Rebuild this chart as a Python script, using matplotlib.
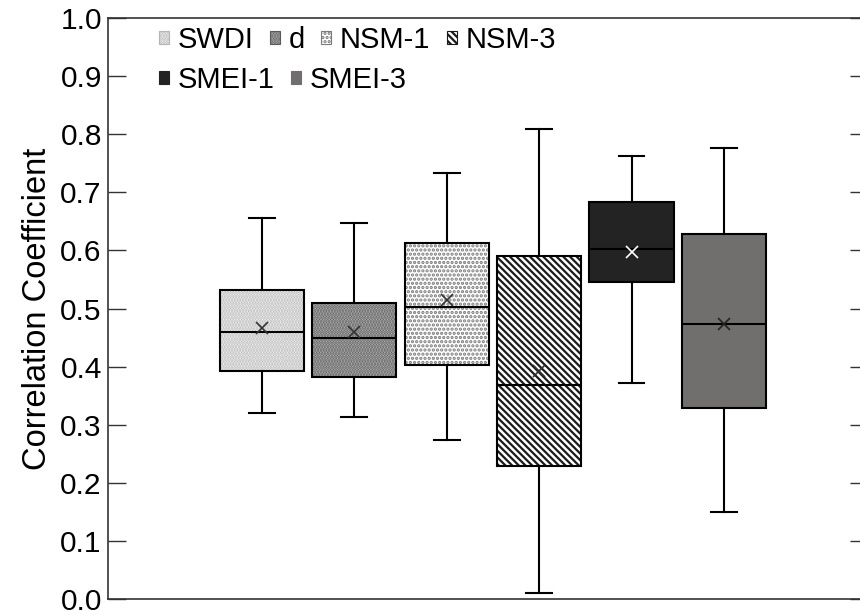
import matplotlib.pyplot as plt
from matplotlib.patches import Patch, PathPatch

plt.rcParams['font.family'] = ['Liberation Sans', 'DejaVu Sans']
plt.rcParams['hatch.linewidth'] = 1.6

# values
labels = ['SWDI', 'd', 'NSM-1', 'NSM-3', 'SMEI-1', 'SMEI-3']
whislo = [0.320, 0.314, 0.273, 0.010, 0.372, 0.149]
q1 = [0.393, 0.382, 0.402, 0.229, 0.545, 0.328]
med = [0.459, 0.449, 0.503, 0.369, 0.602, 0.474]
means = [0.467, 0.459, 0.514, 0.392, 0.598, 0.473]
q3 = [0.531, 0.509, 0.613, 0.591, 0.683, 0.629]
whishi = [0.655, 0.648, 0.733, 0.809, 0.763, 0.777]

# look of each box
faces = ['white', '#c2c2c2', 'white', 'white', '#232323', '#716e6e']
hatches = ['......', '......', '....', '\\\\\\\\\\', None, None]
hatch_cols = ['#b4b4b4', '#5a5a5a', '#7a7a7a', '#1a1a1a', '#232323', '#716e6e']
mean_cols = ['#333333', '#333333', '#333333', '#333333', 'white', '#222222']

stats = []
for i in range(len(labels)):
    stats.append(dict(label=labels[i], whislo=whislo[i], q1=q1[i], med=med[i],
                      mean=means[i], q3=q3[i], whishi=whishi[i], fliers=[]))

fig = plt.figure(figsize=(8.6, 6.16), dpi=100)
ax = fig.add_axes([108 / 860, 17 / 616, 760 / 860, 581 / 616])

pos = list(range(1, len(labels) + 1))
bp = ax.bxp(stats, positions=pos, widths=0.91, capwidths=0.28,
            patch_artist=True, showmeans=True,
            meanprops=dict(marker='x', markersize=9, markeredgewidth=1.2),
            medianprops=dict(color='black', linewidth=1.5, zorder=4),
            whiskerprops=dict(color='black', linewidth=1.5),
            capprops=dict(color='black', linewidth=1.5))

for i, box in enumerate(bp['boxes']):
    box.set_facecolor(faces[i])
    box.set_edgecolor(hatch_cols[i])
    box.set_linewidth(0)
    if hatches[i]:
        box.set_hatch(hatches[i])
    # black outline on top of the hatch
    ax.add_patch(PathPatch(box.get_path(), fill=False, edgecolor='black',
                           linewidth=1.5, zorder=3))
    bp['means'][i].set_markeredgecolor(mean_cols[i])
    bp['means'][i].set_zorder(5)

ax.set_xlim(-0.667, 7.56)
ax.set_ylim(0, 1.0)
ax.set_yticks([i / 10 for i in range(11)])
ax.set_yticklabels([f'{i / 10:.1f}' for i in range(11)])
ax.set_xticks([])
ax.tick_params(axis='y', direction='in', length=13, width=1, labelsize=21.5,
               right=True, pad=4.5, color='#333333')
for s in ax.spines.values():
    s.set_linewidth(1.2)
    s.set_color('#333333')
ax.set_ylabel('Correlation Coefficient', fontsize=23.5, labelpad=5)

handles = []
for i in range(len(labels)):
    handles.append(Patch(facecolor=faces[i], edgecolor=hatch_cols[i],
                         hatch=hatches[i], linewidth=0.8, label=labels[i]))

leg_kw = dict(frameon=False, fontsize=21, handlelength=0.35, handleheight=0.35,
              handletextpad=0.3, columnspacing=0.55, borderpad=0,
              borderaxespad=0, loc='upper left')
leg1 = ax.legend(handles=handles[:4], ncol=4,
                 bbox_to_anchor=(159 / 860, 1 - 26 / 616),
                 bbox_transform=fig.transFigure, **leg_kw)
ax.add_artist(leg1)
ax.legend(handles=handles[4:], ncol=2,
          bbox_to_anchor=(159 / 860, 1 - 66 / 616),
          bbox_transform=fig.transFigure, **leg_kw)

fig.savefig('out.png', dpi=100)
